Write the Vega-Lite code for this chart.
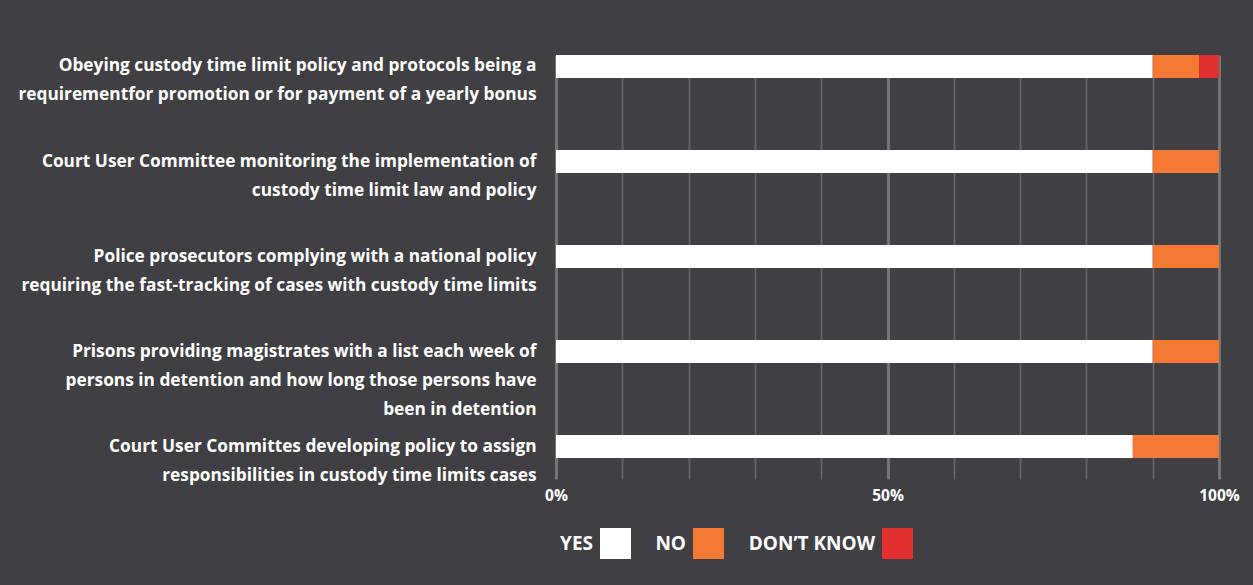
{
  "$schema": "https://vega.github.io/schema/vega-lite/v6.json",
  "width": 663,
  "height": 424,
  "autosize": {"type": "none"},
  "padding": {"left": 556, "top": 55, "right": 34, "bottom": 106},
  "background": "#403f43",
  "config": {"view": {"stroke": null}},
  "data": {
    "values": [
      {"item": "Obeying custody time limit policy and protocols being a|requirementfor promotion or for payment of a yearly bonus", "answer": "YES", "pct": 90},
      {"item": "Obeying custody time limit policy and protocols being a|requirementfor promotion or for payment of a yearly bonus", "answer": "NO", "pct": 7},
      {"item": "Obeying custody time limit policy and protocols being a|requirementfor promotion or for payment of a yearly bonus", "answer": "DON’T KNOW", "pct": 3},
      {"item": "Court User Committee monitoring the implementation of|custody time limit law and policy", "answer": "YES", "pct": 90},
      {"item": "Court User Committee monitoring the implementation of|custody time limit law and policy", "answer": "NO", "pct": 10},
      {"item": "Police prosecutors complying with a national policy|requiring the fast-tracking of cases with custody time limits", "answer": "YES", "pct": 90},
      {"item": "Police prosecutors complying with a national policy|requiring the fast-tracking of cases with custody time limits", "answer": "NO", "pct": 10},
      {"item": "Prisons providing magistrates with a list each week of|persons in detention and how long those persons have|been in detention", "answer": "YES", "pct": 90},
      {"item": "Prisons providing magistrates with a list each week of|persons in detention and how long those persons have|been in detention", "answer": "NO", "pct": 10},
      {"item": "Court User Committes developing policy to assign|responsibilities in custody time limits cases", "answer": "YES", "pct": 87},
      {"item": "Court User Committes developing policy to assign|responsibilities in custody time limits cases", "answer": "NO", "pct": 13}
    ]
  },
  "mark": {"type": "bar"},
  "encoding": {
    "y": {
      "field": "item",
      "type": "nominal",
      "sort": null,
      "scale": {"paddingInner": 0.758, "paddingOuter": 0.11, "align": 0},
      "axis": {
        "title": null,
        "domain": false,
        "ticks": false,
        "tickSize": 0,
        "grid": false,
        "labelPadding": 20,
        "labelLimit": 0,
        "labelFont": "Open Sans",
        "labelFontWeight": "bold",
        "labelFontSize": 17.3,
        "labelColor": "#ffffff",
        "labelLineHeight": 29,
        "labelBaseline": "top",
        "labelOffset": -9,
        "labelExpr": "split(datum.label, '|')"
      }
    },
    "x": {
      "field": "pct",
      "type": "quantitative",
      "stack": "zero",
      "scale": {"domain": [0, 100]},
      "axis": {
        "title": null,
        "values": [0, 10, 20, 30, 40, 50, 60, 70, 80, 90, 100],
        "labelExpr": "datum.value % 50 === 0 ? datum.value + '%' : ''",
        "domain": false,
        "ticks": false,
        "tickSize": 0,
        "labelPadding": 9,
        "labelFont": "Open Sans",
        "labelFontWeight": "bold",
        "labelFontSize": 15.5,
        "labelColor": "#ffffff",
        "labelFlush": false,
        "labelOverlap": false,
        "grid": true,
        "gridColor": {"condition": {"test": "datum.value % 50 === 0", "value": "#747378"}, "value": "#68676c"},
        "gridWidth": {"condition": {"test": "datum.value % 50 === 0", "value": 3}, "value": 1.5}
      }
    },
    "color": {
      "field": "answer",
      "type": "nominal",
      "scale": {"domain": ["YES", "NO", "DON’T KNOW"], "range": ["#ffffff", "#f47a33", "#e23030"]},
      "legend": {
        "title": null,
        "orient": "none",
        "legendX": 44,
        "legendY": 473,
        "direction": "horizontal",
        "symbolType": "square",
        "symbolSize": 961,
        "symbolStrokeWidth": 0,
        "symbolOpacity": 1,
        "labelAlign": "right",
        "labelOffset": -38,
        "labelFont": "Open Sans",
        "labelFontWeight": "bold",
        "labelFontSize": 19,
        "labelColor": "#ffffff",
        "labelLimit": 0,
        "columnPadding": 24
      }
    },
    "order": {"field": "answer", "sort": "descending"}
  }
}
